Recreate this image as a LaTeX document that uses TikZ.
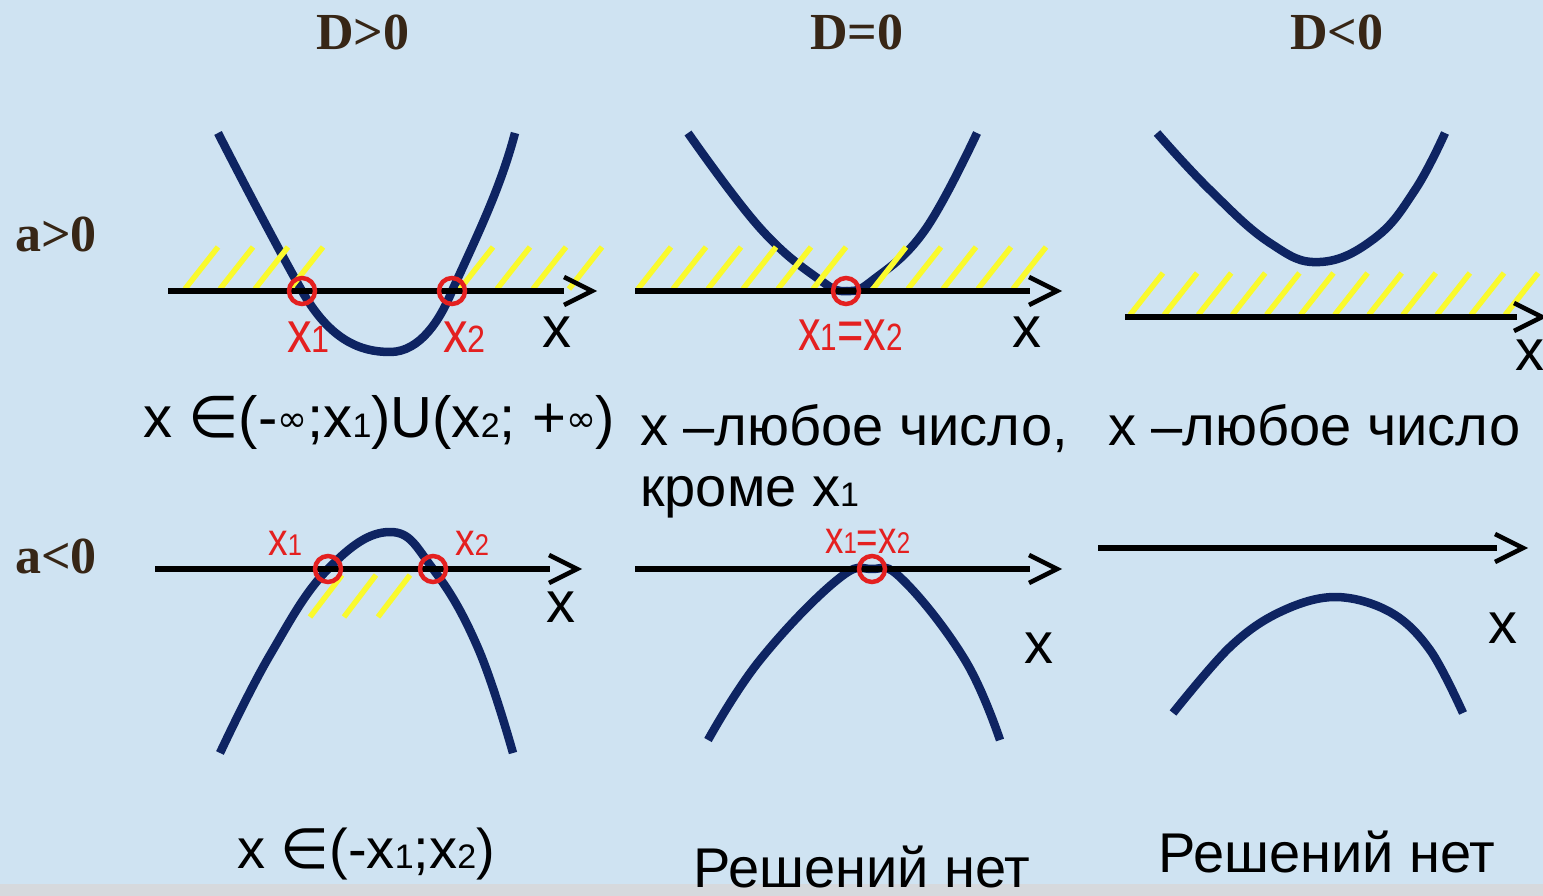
\documentclass[tikz,border=0pt]{standalone}
\usepackage{fontspec}
\setmainfont{Liberation Sans}
\newfontfamily\hdrfont{Liberation Serif}
\newfontfamily\dvsfont{DejaVu Sans}
\definecolor{bgblue}{RGB}{207,227,242}
\definecolor{stripgray}{RGB}{214,217,221}
\definecolor{navy}{RGB}{14,36,98}
\definecolor{hatchy}{RGB}{250,250,45}
\definecolor{rootred}{RGB}{228,32,32}
\definecolor{hdrbrown}{RGB}{55,38,22}
\newcommand\smd[1]{{\fontsize{34}{34}\selectfont #1}}
\newcommand\lsd[1]{{\fontsize{38}{38}\selectfont #1}}
\newcommand\msd[1]{{\fontsize{30}{30}\selectfont #1}}
\newcommand\infsym{{\dvsfont\fontsize{36}{36}\selectfont\raisebox{0.3ex}{∞}}}
\newcommand\elem{{\dvsfont ∈}}
\tikzset{
  curve/.style={navy, line width=8.5pt, line join=round},
  axisline/.style={black, line width=6pt},
  chev/.style={black, line width=4.5pt, line join=miter},
  hatchline/.style={hatchy, line width=5.5pt},
  rootc/.style={rootred, line width=4.5pt},
  hdr/.style={inner sep=0pt, anchor=base, text=hdrbrown, font=\hdrfont\bfseries\fontsize{52}{52}\selectfont},
  rowlab/.style={inner sep=0pt, anchor=base west, text=hdrbrown, font=\hdrfont\bfseries\fontsize{52}{52}\selectfont},
  rootlab/.style={inner sep=0pt, anchor=base west, text=rootred, font=\fontsize{58}{58}\selectfont},
  rootlabs/.style={inner sep=0pt, anchor=base west, text=rootred, font=\fontsize{46}{46}\selectfont},
  axlab/.style={inner sep=0pt, anchor=base west, text=black, font=\fontsize{58}{58}\selectfont},
  body/.style={inner sep=0pt, anchor=base west, text=black, font=\fontsize{56}{56}\selectfont},
}
\begin{document}
\begin{tikzpicture}[x=1pt,y=-1pt]
\useasboundingbox (0,0) rectangle (1543,896);
\fill[bgblue] (0,0) rectangle (1543,896);
\fill[stripgray] (0,884) rectangle (1543,896);

% headers
\node[hdr] (h1) at (363,50) {D>0};
\node[hdr] (h2) at (857,50) {D=0};
\node[hdr] (h3) at (1337,50) {D<0};
\node[rowlab] (r1) at (15,252) {a>0};
\node[rowlab] (r2) at (15,573) {a<0};

% ---------- panel 1 ----------
\draw[curve] (218,133) .. controls (260,215) and (290,270) .. (302,291)
  .. controls (330,340) and (360,352) .. (390,352)
  .. controls (420,352) and (440,320) .. (452,291)
  .. controls (475,240) and (500,190) .. (515,133);
\foreach \s in {185,220,255,290,460,497,533,569} \draw[hatchline] (\s,289) -- ++(33,-42);
\draw[axisline] (168,291) -- (564,291);
\draw[chev] (592,291) ++(-28,-14) -- (592,291) -- ++(-28,14);
\draw[rootc] (302,291) circle (13);
\draw[rootc] (452,291) circle (13);
\node[rootlab] (p1a) at (287,352) {\scalebox{0.85}[1]{x\lsd{1}}};
\node[rootlab] (p1b) at (443,352) {\scalebox{0.85}[1]{x\lsd{2}}};
\node[axlab] (p1x) at (542,347) {x};

% ---------- panel 2 ----------
\draw[curve] plot[smooth, tension=0.7] coordinates {(688,133) (760,228) (820,280) (847,291) (873,280) (925,230) (977,133)};
\foreach \s in {638,673,708,743,778,813,873,908,943,978,1013} \draw[hatchline] (\s,289) -- ++(33,-42);
\draw[axisline] (635,291) -- (1030,291);
\draw[chev] (1057,291) ++(-28,-14) -- (1057,291) -- ++(-28,14);
\draw[rootc] (846,291) circle (13);
\node[rootlab] (p2a) at (798,350) {\scalebox{0.78}[1]{x\lsd{1}=x\lsd{2}}};
\node[axlab] (p2x) at (1012,347) {x};

% ---------- panel 3 ----------
\draw[curve] plot[smooth, tension=0.7] coordinates {(1157,133) (1210,190) (1270,243) (1320,262) (1375,238) (1415,190) (1445,133)};
\foreach \i in {0,...,11} \draw[hatchline] (1130+34.1*\i,315) -- ++(33,-42);
\draw[axisline] (1125,317) -- (1517,317);
\draw[chev] (1542,317) ++(-28,-14) -- (1542,317) -- ++(-28,14);
\node[axlab] (p3x) at (1515,370) {x};

% ---------- panel 4 ----------
\draw[curve] plot[smooth, tension=0.7] coordinates {(220,753) (270,655) (328,569) (390,532) (433,569) (478,648) (513,753)};
\foreach \s in {310,344,378} \draw[hatchline] (\s,617) -- ++(32,-42);
\draw[axisline] (155,569) -- (550,569);
\draw[chev] (577,569) ++(-28,-14) -- (577,569) -- ++(-28,14);
\draw[rootc] (328,569) circle (13);
\draw[rootc] (433,569) circle (13);
\node[rootlabs] (p4a) at (268,555) {\scalebox{0.85}[1]{x\msd{1}}};
\node[rootlabs] (p4b) at (455,555) {\scalebox{0.85}[1]{x\msd{2}}};
\node[axlab] (p4x) at (546,622) {x};

% ---------- panel 5 ----------
\draw[curve] plot[smooth, tension=0.7] coordinates {(708,740) (760,660) (837,580) (872,569) (903,580) (965,660) (1000,740)};
\draw[axisline] (635,569) -- (1030,569);
\draw[chev] (1057,569) ++(-28,-14) -- (1057,569) -- ++(-28,14);
\draw[rootc] (872,569) circle (13);
\node[rootlabs] (p5a) at (825,553) {\scalebox{0.8}[1]{x\msd{1}=x\msd{2}}};
\node[axlab] (p5x) at (1024,663) {x};

% ---------- panel 6 ----------
\draw[curve] plot[smooth, tension=0.6] coordinates {(1173,713) (1230,647) (1280,612) (1335,597) (1390,612) (1430,650) (1463,713)};
\draw[axisline] (1098,548) -- (1497,548);
\draw[chev] (1523,548) ++(-28,-14) -- (1523,548) -- ++(-28,14);
\node[axlab] (p6x) at (1488,643) {x};

% ---------- texts ----------
\node[body, font=\fontsize{58}{58}\selectfont] (t1) at (143,437) {x \elem(-\infsym;x\smd{1})U(x\smd{2}; +\infsym)};
\node[body] (t2) at (640,445) {x –любое число,};
\node[body] (t3) at (640,506) {кроме x\smd{1}};
\node[body] (t4) at (1108,445) {x –любое число};
\node[body] (t5) at (237,868) {x \elem(-x\smd{1};x\smd{2})};
\node[body] (t6) at (693,887) {Решений нет};
\node[body] (t7) at (1158,872) {Решений нет};
\end{tikzpicture}
\end{document}
